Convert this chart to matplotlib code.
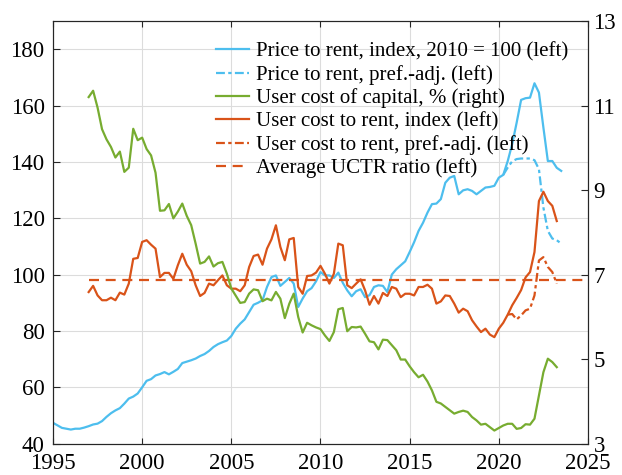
import numpy as np
import matplotlib
matplotlib.use('Agg')
import matplotlib.pyplot as plt

plt.rcParams['font.family'] = 'Liberation Serif'

# quarterly series
# price to rent index (left axis), 1995Q1 - 2023Q3
price_to_rent = [
    47.4, 46.5, 45.6, 45.3,     # 1995
    45.0, 45.3, 45.3, 45.7,     # 1996
    46.2, 46.8, 47.1, 48.0,     # 1997
    49.5, 50.8, 51.8, 52.6,     # 1998
    54.2, 56.0, 56.7, 57.8,     # 1999
    60.0, 62.3, 62.9, 64.2,     # 2000
    64.7, 65.4, 64.6, 65.5,     # 2001
    66.5, 68.6, 69.1, 69.6,     # 2002
    70.2, 71.1, 71.8, 72.9,     # 2003
    74.3, 75.3, 76.0, 76.6,     # 2004
    78.2, 80.8, 82.6, 84.1,     # 2005
    86.7, 89.3, 90.0, 90.9,     # 2006
    95.6, 99.1, 99.7, 96.0,     # 2007
    97.4, 98.8, 96.8, 88.5,     # 2008
    91.5, 94.1, 95.2, 97.6,     # 2009
    100.9, 99.7, 99.7, 98.8,    # 2010
    100.7, 97.1, 94.4, 92.3,    # 2011
    94.1, 94.8, 92.0, 92.7,     # 2012
    95.6, 96.2, 96.0, 93.8,     # 2013
    100.0, 101.9, 103.3, 104.7, # 2014
    108.0, 111.5, 115.5, 118.4, # 2015
    122.0, 125.0, 125.2, 126.8, # 2016
    132.6, 134.4, 135.0, 128.5, # 2017
    129.9, 130.3, 129.7, 128.5, # 2018
    129.7, 130.9, 131.1, 131.5, # 2019
    134.4, 135.4, 140.3, 146.3, # 2020
    153.9, 162.0, 162.6, 162.8, # 2021
    167.9, 164.6, 152.2, 140.3, # 2022
    140.3, 137.9, 136.8,        # 2023
]
# price to rent, preference adjusted, 2020Q2 - 2023Q3
ptr_pref = [135.4, 138.0, 140.2,
            141.0, 141.2, 141.2, 141.2,
            140.6, 137.4, 123.8, 115.5,
            112.8, 112.2, 111.0]

# user cost of capital, % (right axis), 1997Q1 - 2023Q2
user_cost = [
    11.20, 11.35, 10.95, 10.44,  # 1997
    10.20, 10.02, 9.77, 9.91,    # 1998
    9.43, 9.53, 10.45, 10.18,    # 1999
    10.24, 9.97, 9.82, 9.41,     # 2000
    8.51, 8.52, 8.67, 8.33,      # 2001
    8.49, 8.68, 8.39, 8.17,      # 2002
    7.73, 7.26, 7.30, 7.43,      # 2003
    7.19, 7.27, 7.30, 7.02,      # 2004
    6.67, 6.50, 6.33, 6.35,      # 2005
    6.55, 6.65, 6.63, 6.37,      # 2006
    6.43, 6.39, 6.59, 6.43,      # 2007
    5.97, 6.31, 6.55, 6.00,      # 2008
    5.63, 5.86, 5.80, 5.75,      # 2009
    5.71, 5.56, 5.43, 5.64,      # 2010
    6.18, 6.21, 5.66, 5.76,      # 2011
    5.75, 5.77, 5.60, 5.42,      # 2012
    5.40, 5.23, 5.46, 5.45,      # 2013
    5.33, 5.21, 4.99, 4.99,      # 2014
    4.83, 4.69, 4.57, 4.63,      # 2015
    4.47, 4.26, 3.99, 3.95,      # 2016
    3.87, 3.79, 3.71, 3.75,      # 2017
    3.78, 3.75, 3.63, 3.55,      # 2018
    3.45, 3.47, 3.39, 3.31,      # 2019
    3.37, 3.43, 3.47, 3.47,      # 2020
    3.35, 3.37, 3.46, 3.45,      # 2021
    3.59, 4.14, 4.69, 5.01,      # 2022
    4.93, 4.81,                  # 2023
]

# user cost to rent index (left axis), 1997Q1 - 2023Q2
uctr = [
    93.8, 96.0, 92.6, 90.9,      # 1997
    90.9, 91.8, 90.9, 93.6,      # 1998
    92.9, 96.8, 105.6, 105.9,    # 1999
    111.6, 112.2, 110.6, 109.2,  # 2000
    99.1, 100.6, 100.6, 98.5,    # 2001
    103.3, 107.4, 103.5, 101.2,  # 2002
    96.2, 92.4, 93.5, 96.8,      # 2003
    96.2, 98.0, 99.7, 96.2,      # 2004
    95.0, 95.0, 94.1, 96.2,      # 2005
    102.7, 106.6, 107.1, 103.5,  # 2006
    109.2, 112.5, 117.5, 109.8,  # 2007
    105.1, 112.5, 113.0, 95.6,   # 2008
    93.2, 99.5, 99.7, 100.7,     # 2009
    103.1, 100.3, 96.8, 100.3,   # 2010
    111.0, 110.4, 96.2, 95.2,    # 2011
    96.8, 98.3, 94.4, 89.3,      # 2012
    92.4, 89.7, 93.5, 92.4,      # 2013
    95.6, 95.0, 92.0, 93.2,      # 2014
    93.2, 92.6, 95.6, 95.6,      # 2015
    96.4, 95.0, 89.7, 90.5,      # 2016
    92.6, 92.4, 89.7, 86.5,      # 2017
    87.9, 87.0, 83.8, 81.6,      # 2018
    79.6, 80.8, 78.7, 77.8,      # 2019
    80.8, 82.9, 85.8, 89.1,      # 2020
    91.7, 94.5, 99.0, 100.9,     # 2021
    108.0, 126.1, 129.4, 126.1,  # 2022
    124.4, 119.0,                # 2023
]
# user cost to rent, preference adjusted, 2020Q3 - 2023Q2
uctr_pref = [85.8, 86.0,
             84.1, 85.5, 87.3, 87.9,
             92.6, 105.0, 106.2, 102.7,
             100.9, 96.8]
uctr_avg = 98.2

x_ticks = [1995, 2000, 2005, 2010, 2015, 2020, 2025]
left_ticks = [40, 60, 80, 100, 120, 140, 160, 180]
right_ticks = [3, 5, 7, 9, 11, 13]

labels = ['Price to rent, index, 2010 = 100 (left)',
          'Price to rent, pref.-adj. (left)',
          'User cost of capital, % (right)',
          'User cost to rent, index (left)',
          'User cost to rent, pref.-adj. (left)',
          'Average UCTR ratio (left)']

# dates
t_ptr = 1995 + 0.25 * np.arange(len(price_to_rent))
t_ptr_pref = 2020.25 + 0.25 * np.arange(len(ptr_pref))
t_uc = 1997 + 0.25 * np.arange(len(user_cost))
t_uctr_pref = 2020.5 + 0.25 * np.arange(len(uctr_pref))

blue = '#4DBEEE'
green = '#77AC30'
orange = '#D95319'
axcol = '#262626'

fig = plt.figure(figsize=(6.22, 4.75), dpi=100)
ax = fig.add_axes([0.0852, 0.066, 0.8601, 0.8898])
ax2 = ax.twinx()

lw = 1.6
dashdot = (0, (4, 1.5, 1.5, 1.5))
h1, = ax.plot(t_ptr, price_to_rent, color=blue, lw=lw)
h2, = ax.plot(t_ptr_pref, ptr_pref, color=blue, lw=lw, ls=dashdot)
h4, = ax.plot(t_uc, uctr, color=orange, lw=lw)
h5, = ax.plot(t_uctr_pref, uctr_pref, color=orange, lw=lw, ls=dashdot)
h6 = ax.hlines(uctr_avg, t_uc[0], 2025, color=orange, lw=lw, ls=(0, (4.5, 3)))
h3, = ax2.plot(t_uc, user_cost, color=green, lw=lw)

ax.set_xlim(1995, 2025)
ax.set_ylim(40, 190)
ax2.set_ylim(3, 13)
ax.set_xticks(x_ticks)
ax.set_yticks(left_ticks)
ax2.set_yticks(right_ticks)

ax.grid(True, color='#dcdcdc', lw=0.8)
ax.set_axisbelow(True)

for a in (ax, ax2):
    for s in a.spines.values():
        s.set_color(axcol)
        s.set_linewidth(0.8)
ax.tick_params(axis='x', direction='in', top=True, length=4, width=0.8,
               colors=axcol, labelcolor='black', labelsize=16.5, pad=7)
ax.tick_params(axis='y', direction='in', right=False, length=5, width=0.8,
               colors=axcol, labelcolor='black', labelsize=16.5, pad=6)
ax2.tick_params(axis='y', direction='in', length=5, width=0.8,
                colors=axcol, labelcolor='black', labelsize=16.5, pad=4)

ax.legend([h1, h2, h3, h4, h5, h6], labels, loc='upper right',
          bbox_to_anchor=(0.991, 0.985), frameon=False, fontsize=15,
          handlelength=1.6, handletextpad=0.33, labelspacing=0.17,
          borderpad=0.2)

fig.savefig('out.png', dpi=100)
